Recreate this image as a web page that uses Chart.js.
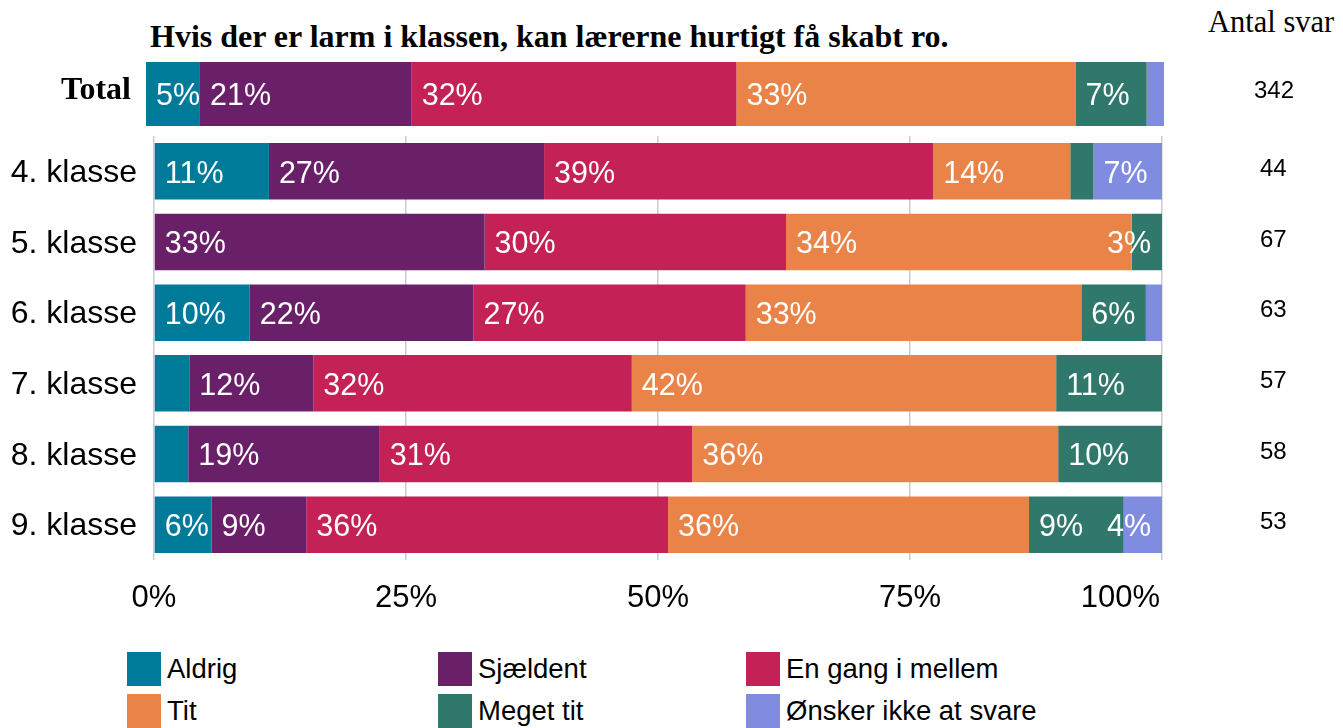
<!DOCTYPE html>
<html lang="da">
<head>
<meta charset="utf-8">
<title>Hvis der er larm i klassen</title>
<script src="https://cdn.jsdelivr.net/npm/chart.js@4.4.1/dist/chart.umd.min.js"></script>
<style>
  html, body { margin: 0; padding: 0; background: #fff; }
  body { position: relative; width: 1343px; height: 728px; overflow: hidden; }
  #title { position: absolute; left: 150px; top: 20px; font: bold 32px "Liberation Serif", serif; line-height: 1; white-space: nowrap; color: #000; }
  #countHead { position: absolute; left: 1208px; top: 7px; font: 30.5px "Liberation Serif", serif; line-height: 1; white-space: nowrap; color: #000; }
  #gradeChart { position: absolute; left: 0; top: 0; }
  #totalChart { position: absolute; left: 0; top: 54px; }
  #legend { position: absolute; left: 127px; top: 652px; display: grid; grid-template-columns: 311px 308px 300px; row-gap: 8px; }
  .item { display: flex; align-items: center; height: 34px; font: 27.5px "Liberation Sans", Arial, sans-serif; color: #000; white-space: nowrap; }
  .sw { width: 34px; height: 34px; margin-right: 6px; flex: none; }
</style>
</head>
<body>
<div id="title">Hvis der er larm i klassen, kan lærerne hurtigt få skabt ro.</div>
<div id="countHead">Antal svar</div>
<canvas id="gradeChart" width="1343" height="640"></canvas>
<canvas id="totalChart" width="1343" height="80"></canvas>
<div id="legend"></div>
<script>
// Answer options and their colours
const answers = ['Aldrig', 'Sjældent', 'En gang i mellem', 'Tit', 'Meget tit', 'Ønsker ikke at svare'];
const answerColors = ['#007A99', '#6A2068', '#C42156', '#E98347', '#31786C', '#808CE0'];

// Grade rows
const grades = ['4. klasse', '5. klasse', '6. klasse', '7. klasse', '8. klasse', '9. klasse'];
const gradeCounts = ['44', '67', '63', '57', '58', '53'];

// Share of answers per grade (percent)
const aldrig     = [11.4,  0.0,  9.5,  3.5,  3.4,  5.7];
const sjaeldent  = [27.3, 32.8, 22.2, 12.3, 19.0,  9.4];
const enGang     = [38.6, 29.9, 27.0, 31.6, 31.0, 35.9];
const tit        = [13.6, 34.3, 33.3, 42.1, 36.3, 35.8];
const megetTit   = [ 2.3,  3.0,  6.4, 10.5, 10.3,  9.4];
const onskerIkke = [ 6.8,  0.0,  1.6,  0.0,  0.0,  3.8];

// All grades together (percent, one value per answer option)
const totalLabel = ['Total'];
const totalCount = ['342'];
const totalShares = [5.3, 20.8, 31.9, 33.3, 7.0, 1.7];

// Tick values on the percent axis
const pctTicks = [0, 25, 50, 75, 100];

const gradeSeries = [aldrig, sjaeldent, enGang, tit, megetTit, onskerIkke];

const SANS = '"Liberation Sans", Arial, sans-serif';
const SERIF = '"Liberation Serif", "Times New Roman", serif';

// White percentage text inside each segment
const segmentLabels = {
  id: 'segmentLabels',
  afterDatasetsDraw(chart) {
    const ctx = chart.ctx;
    const sets = chart.data.datasets;
    ctx.save();
    ctx.font = '30.5px ' + SANS;
    ctx.fillStyle = '#ffffff';
    ctx.textBaseline = 'middle';
    chart.data.labels.forEach((_, i) => {
      let last = -1;
      sets.forEach((ds, d) => { if (ds.data[i] > 0) last = d; });
      sets.forEach((ds, d) => {
        const v = ds.data[i];
        const bar = chart.getDatasetMeta(d).data[i];
        const txt = Math.round(v) + '%';
        if (v >= 4.5) {
          ctx.textAlign = 'left';
          ctx.fillText(txt, bar.base + 10, bar.y + 3);
        } else if (d === last && v >= 2.5) {
          ctx.textAlign = 'right';
          ctx.fillText(txt, bar.x - 11, bar.y + 3);
        }
      });
    });
    ctx.restore();
  }
};

// Percent tick labels below the plot, kept inside the plot's right edge
const pctAxisLabels = {
  id: 'pctAxisLabels',
  afterDraw(chart) {
    const sc = chart.scales.x;
    const area = chart.chartArea;
    const ctx = chart.ctx;
    ctx.save();
    ctx.font = '31px ' + SANS;
    ctx.fillStyle = '#000';
    ctx.textBaseline = 'middle';
    ctx.textAlign = 'left';
    sc.ticks.forEach(t => {
      const txt = t.value + '%';
      const w = ctx.measureText(txt).width;
      let x = sc.getPixelForValue(t.value) - w / 2;
      x = Math.min(x, area.right - 2 - w);
      ctx.fillText(txt, x, area.bottom + 38);
    });
    ctx.restore();
  }
};

function fixedWidth(w) {
  return function (s) { s.width = w; s.paddingTop = 0; s.paddingBottom = 0; };
}

// Grade chart
new Chart(document.getElementById('gradeChart'), {
  type: 'bar',
  data: {
    labels: grades,
    datasets: answers.map((name, i) => ({
      label: name,
      data: gradeSeries[i],
      backgroundColor: answerColors[i],
      borderWidth: 0,
      categoryPercentage: 1,
      barPercentage: 0.8
    }))
  },
  options: {
    indexAxis: 'y',
    responsive: false,
    animation: false,
    devicePixelRatio: 1,
    layout: { padding: { top: 136, left: 0, right: 0, bottom: 0 } },
    plugins: { legend: { display: false }, tooltip: { enabled: false } },
    scales: {
      x: {
        stacked: true, min: 0, max: 100,
        afterBuildTicks(s) { s.ticks = pctTicks.map(v => ({ value: v })); },
        ticks: { display: false },
        grid: { color: '#c9ccd0', lineWidth: 1.5, drawTicks: false },
        border: { display: false },
        afterFit(s) { s.height = 80; }
      },
      y: {
        stacked: true,
        grid: { display: false, drawTicks: false },
        border: { display: false },
        ticks: { color: '#000', font: { family: SANS, size: 32 }, padding: 17, labelOffset: 2 },
        afterFit: fixedWidth(154)
      },
      y2: {
        type: 'category',
        position: 'right',
        labels: gradeCounts,
        offset: true,
        grid: { display: false, drawTicks: false },
        border: { display: false },
        ticks: { color: '#000', font: { family: SANS, size: 24 }, crossAlign: 'center', padding: 98, labelOffset: -2 },
        afterFit: fixedWidth(181)
      }
    }
  },
  plugins: [segmentLabels, pctAxisLabels]
});

// Total bar
new Chart(document.getElementById('totalChart'), {
  type: 'bar',
  data: {
    labels: totalLabel,
    datasets: answers.map((name, i) => ({
      label: name,
      data: [totalShares[i]],
      backgroundColor: answerColors[i],
      borderWidth: 0,
      categoryPercentage: 1,
      barPercentage: 0.8
    }))
  },
  options: {
    indexAxis: 'y',
    responsive: false,
    animation: false,
    devicePixelRatio: 1,
    layout: { padding: 0 },
    plugins: { legend: { display: false }, tooltip: { enabled: false } },
    scales: {
      x: { stacked: true, min: 0, max: 100, display: false },
      y: {
        stacked: true,
        grid: { display: false, drawTicks: false },
        border: { display: false },
        ticks: { color: '#000', font: { family: SERIF, size: 32, weight: 'bold' }, padding: 15, labelOffset: -3 },
        afterFit: fixedWidth(146)
      },
      y2: {
        type: 'category',
        position: 'right',
        labels: totalCount,
        offset: true,
        grid: { display: false, drawTicks: false },
        border: { display: false },
        ticks: { color: '#000', font: { family: SANS, size: 24 }, crossAlign: 'center', padding: 90, labelOffset: -3 },
        afterFit: fixedWidth(179)
      }
    }
  },
  plugins: [segmentLabels]
});

// Legend in three columns
const legend = document.getElementById('legend');
answers.forEach((name, i) => {
  const item = document.createElement('div');
  item.className = 'item';
  const sw = document.createElement('span');
  sw.className = 'sw';
  sw.style.background = answerColors[i];
  item.appendChild(sw);
  item.appendChild(document.createTextNode(name));
  legend.appendChild(item);
});
</script>
</body>
</html>
